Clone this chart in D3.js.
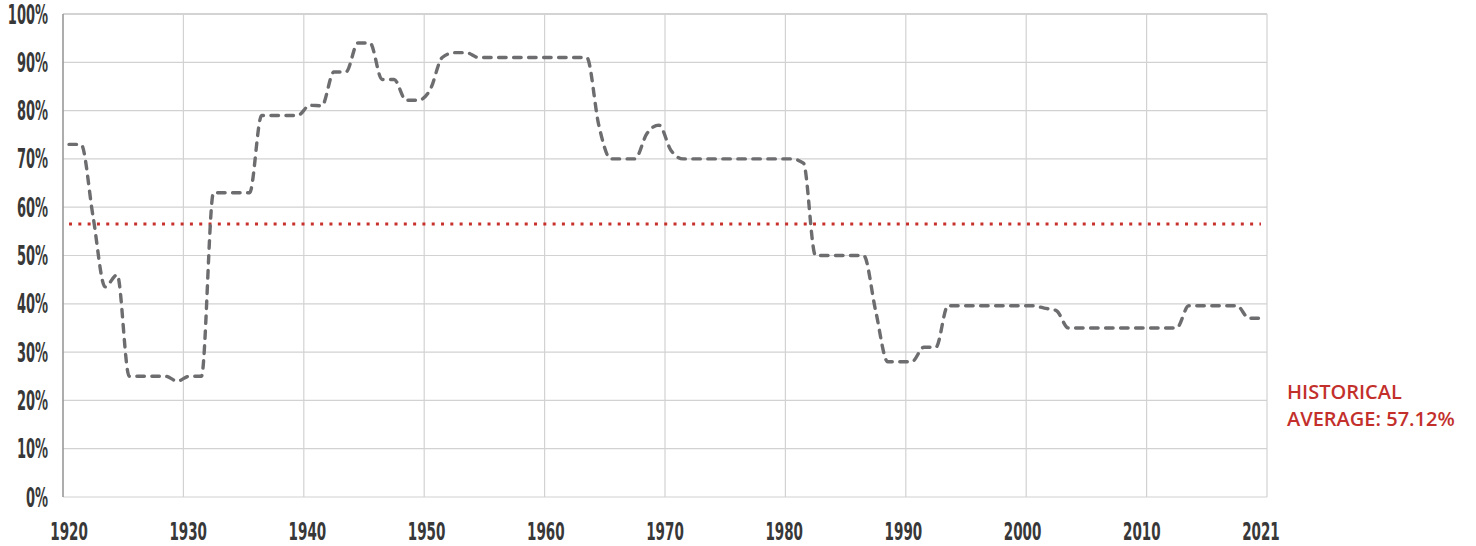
<!DOCTYPE html>
<html>
<head>
<meta charset="utf-8">
<script src="https://cdn.jsdelivr.net/npm/d3@7"></script>
<style>
  html, body { margin: 0; padding: 0; background: #fff; }
  svg { display: block; }
</style>
</head>
<body>
<svg id="chart" width="1476" height="546"></svg>
<script>
// ---- data ----
const years = d3.range(1920, 2020);
const rates = [
  73, 73, 58, 43.5, 46, 25, 25, 25, 25, 24,
  25, 25, 63, 63, 63, 63, 79, 79, 79, 79,
  81.1, 81, 88, 88, 94, 94, 86.45, 86.45, 82.13, 82.13,
  84.36, 91, 92, 92, 91, 91, 91, 91, 91, 91,
  91, 91, 91, 91, 77, 70, 70, 70, 75.25, 77,
  71.75, 70, 70, 70, 70, 70, 70, 70, 70, 70,
  70, 69.13, 50, 50, 50, 50, 50, 38.5, 28, 28,
  28, 31, 31, 39.6, 39.6, 39.6, 39.6, 39.6, 39.6, 39.6,
  39.6, 39.1, 38.6, 35, 35, 35, 35, 35, 35, 35,
  35, 35, 35, 39.6, 39.6, 39.6, 39.6, 39.6, 37, 37
];
const xTickLabels = ["1920","1930","1940","1950","1960","1970","1980","1990","2000","2010","2021"];
const yTicks = [0,10,20,30,40,50,60,70,80,90,100];
const averageLinePosition = 56.5;
const averageLabel = ["HISTORICAL", "AVERAGE: 57.12%"];

// ---- layout ----
const margin = {top: 14, right: 209, bottom: 49, left: 63};
const W = 1476 - margin.left - margin.right;
const H = 546 - margin.top - margin.bottom;

const svg = d3.select("#chart");
const g = svg.append("g").attr("transform", `translate(${margin.left},${margin.top})`);

const x = d3.scalePoint().domain(years).range([0, W]).padding(0.5);
const y = d3.scaleLinear().domain([0, 100]).range([H, 0]);
const gridX = d3.scaleLinear().domain([0, xTickLabels.length - 1]).range([0, W]);
const labelX = d3.scaleLinear().domain([0, xTickLabels.length - 1])
  .range([x(years[0]), x(years[years.length - 1])]);

// horizontal grid
g.append("g").selectAll("line").data(yTicks).join("line")
  .attr("x1", 0).attr("x2", W)
  .attr("y1", d => y(d)).attr("y2", d => y(d))
  .attr("stroke", d => d === 100 ? "#a8a8a8" : "#d2d2d2")
  .attr("stroke-width", 1.2);

// vertical grid
g.append("g").selectAll("line").data(xTickLabels.map((d, i) => i)).join("line")
  .attr("x1", d => gridX(d)).attr("x2", d => gridX(d))
  .attr("y1", 0).attr("y2", H)
  .attr("stroke", d => d === 0 ? "#999" : "#d2d2d2")
  .attr("stroke-width", d => d === 0 ? 1.6 : 1.2);

// condensed bold label helper
function condense(sel, factor) {
  sel.each(function() {
    const len = this.getComputedTextLength();
    d3.select(this).attr("textLength", len * factor).attr("lengthAdjust", "spacingAndGlyphs");
  });
}

// y labels
g.append("g").selectAll("text").data(yTicks).join("text")
  .attr("x", -15).attr("y", d => y(d) + 9.5)
  .attr("text-anchor", "end")
  .attr("font-family", "DejaVu Sans")
  .attr("font-weight", "bold")
  .attr("font-size", 26)
  .attr("fill", "#383838")
  .text(d => d + "%")
  .call(condense, 0.5);

// x labels
g.append("g").selectAll("text").data(xTickLabels).join("text")
  .attr("x", (d, i) => labelX(i)).attr("y", H + 43)
  .attr("text-anchor", "middle")
  .attr("font-family", "DejaVu Sans")
  .attr("font-weight", "bold")
  .attr("font-size", 25)
  .attr("fill", "#383838")
  .text(d => d)
  .call(condense, 0.54);

// average dotted line
g.append("line")
  .attr("x1", x(years[0])).attr("x2", x(years[years.length - 1]))
  .attr("y1", y(averageLinePosition)).attr("y2", y(averageLinePosition))
  .attr("stroke", "#c8302c")
  .attr("stroke-width", 3)
  .attr("stroke-dasharray", "3 6.3");

// data line
const line = d3.line()
  .x((d, i) => x(years[i]))
  .y(d => y(d))
  .curve(d3.curveMonotoneX);

g.append("path")
  .datum(rates)
  .attr("d", line)
  .attr("fill", "none")
  .attr("stroke", "#6d6d70")
  .attr("stroke-width", 3.4)
  .attr("stroke-linecap", "round")
  .attr("stroke-dasharray", "7.5 7.5");

// average label
const lab = svg.append("text")
  .attr("font-family", "Open Sans")
  .attr("font-size", 20)
  .attr("font-weight", 600)
  .attr("fill", "#c3302c");
averageLabel.forEach((t, i) => {
  lab.append("tspan").attr("x", 1287).attr("y", 399 + i * 27).text(t);
});
</script>
</body>
</html>
